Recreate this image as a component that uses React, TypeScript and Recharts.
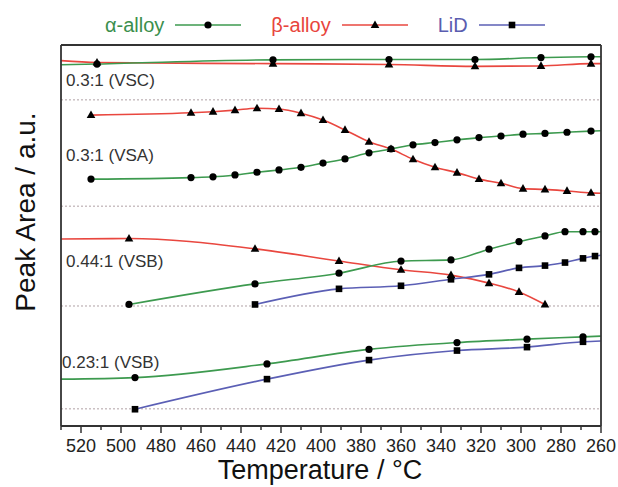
import { LineChart, Line, XAxis, YAxis, ReferenceLine, ReferenceDot, Label } from 'recharts';

type Pt = { t: number; v: number; fit?: boolean };

// temperature ticks (every 10 °C, labels every 20 °C)
const xTicks = [530, 520, 510, 500, 490, 480, 470, 460, 450, 440, 430, 420, 410, 400, 390, 380, 370, 360, 350, 340, 330, 320, 310, 300, 290, 280, 270, 260];

// dotted baselines of the four stacked panels (a.u.)
const baselines = [85.6, 57.7, 31.5, 4.5];
const panelLabels = ['0.3:1 (VSC)', '0.3:1 (VSA)', '0.44:1 (VSB)', '0.23:1 (VSB)'];
const panelLabelLevels = [89.2, 69.6, 41.7, 15.2];
const panelLabelStart = [527.5, 527.5, 527.5, 529.5];

// fit: end of the fitted curve, no measured point
const vscAlpha: Pt[] = [
  { t: 530, v: 94.8, fit: true }, { t: 512, v: 95.0 }, { t: 424, v: 96.1 }, { t: 366, v: 96.2 },
  { t: 323, v: 96.2 }, { t: 290, v: 96.7 }, { t: 265, v: 96.9 }, { t: 260, v: 96.9, fit: true },
];
const vscBeta: Pt[] = [
  { t: 530, v: 95.9, fit: true }, { t: 512, v: 95.4 }, { t: 424, v: 95.1 }, { t: 366, v: 94.9 },
  { t: 323, v: 94.4 }, { t: 290, v: 94.5 }, { t: 265, v: 95.1 }, { t: 260, v: 95.1, fit: true },
];

const vsaAlpha: Pt[] = [
  { t: 515, v: 64.8 }, { t: 465, v: 65.2 }, { t: 454, v: 65.4 }, { t: 443, v: 65.9 }, { t: 432, v: 66.6 },
  { t: 421, v: 67.2 }, { t: 410, v: 67.9 }, { t: 399, v: 69.0 }, { t: 388, v: 70.1 }, { t: 376, v: 71.7 },
  { t: 365, v: 72.7 }, { t: 354, v: 73.8 }, { t: 343, v: 74.4 }, { t: 332, v: 75.1 }, { t: 321, v: 75.7 },
  { t: 310, v: 76.1 }, { t: 299, v: 76.6 }, { t: 288, v: 76.8 }, { t: 277, v: 77.1 }, { t: 265, v: 77.4 },
  { t: 260, v: 77.5, fit: true },
];
const vsaBeta: Pt[] = [
  { t: 515, v: 81.6 }, { t: 465, v: 82.2 }, { t: 454, v: 82.5 }, { t: 443, v: 82.9 }, { t: 432, v: 83.4 },
  { t: 421, v: 83.2 }, { t: 410, v: 82.1 }, { t: 399, v: 80.3 }, { t: 388, v: 77.7 }, { t: 376, v: 74.6 },
  { t: 365, v: 72.7 }, { t: 354, v: 70.0 }, { t: 343, v: 67.9 }, { t: 332, v: 66.5 }, { t: 321, v: 64.8 },
  { t: 310, v: 63.7 }, { t: 299, v: 62.3 }, { t: 288, v: 62.1 }, { t: 277, v: 61.7 }, { t: 265, v: 61.2 },
  { t: 260, v: 61.1, fit: true },
];

const vsb44Alpha: Pt[] = [
  { t: 496, v: 31.9 }, { t: 433, v: 37.3 }, { t: 391, v: 40.1 }, { t: 360, v: 43.3 }, { t: 335, v: 43.6 },
  { t: 316, v: 46.4 }, { t: 301, v: 48.4 }, { t: 288, v: 49.9 }, { t: 278, v: 51.0 }, { t: 269, v: 51.0 },
  { t: 263, v: 51.0 }, { t: 260, v: 51.0, fit: true },
];
const vsb44Beta: Pt[] = [
  { t: 530, v: 49.1, fit: true }, { t: 496, v: 49.2 }, { t: 433, v: 46.5 }, { t: 391, v: 43.3 },
  { t: 360, v: 41.0 }, { t: 335, v: 39.6 }, { t: 316, v: 37.5 }, { t: 301, v: 35.2 }, { t: 288, v: 31.9 },
];
const vsb44LiD: Pt[] = [
  { t: 433, v: 31.9 }, { t: 391, v: 36.0 }, { t: 360, v: 36.8 }, { t: 335, v: 38.5 }, { t: 316, v: 39.8 },
  { t: 301, v: 41.5 }, { t: 288, v: 42.1 }, { t: 278, v: 42.9 }, { t: 269, v: 44.0 }, { t: 263, v: 44.6 },
  { t: 260, v: 44.8, fit: true },
];

const vsb23Alpha: Pt[] = [
  { t: 530, v: 12.3, fit: true }, { t: 493, v: 12.7 }, { t: 427, v: 16.3 }, { t: 376, v: 20.1 },
  { t: 332, v: 21.9 }, { t: 297, v: 22.8 }, { t: 269, v: 23.4 }, { t: 260, v: 23.6, fit: true },
];
const vsb23LiD: Pt[] = [
  { t: 493, v: 4.4 }, { t: 427, v: 12.3 }, { t: 376, v: 17.3 }, { t: 332, v: 19.8 },
  { t: 297, v: 20.7 }, { t: 269, v: 22.1 }, { t: 260, v: 22.3, fit: true },
];

const GREEN = '#3d9a4f';
const RED = '#e9473f';
const BLUE = '#5b5fb5';
const FRAME = { stroke: '#333333', strokeWidth: 1.8 };

type Shape = 'circle' | 'triangle' | 'square';

const legendItems: { name: string; color: string; text: string; shape: Shape }[] = [
  { name: 'α-alloy', color: GREEN, text: '#3b8f4d', shape: 'circle' },
  { name: 'β-alloy', color: RED, text: '#e8453c', shape: 'triangle' },
  { name: 'LiD', color: BLUE, text: '#5a5db0', shape: 'square' },
];

const series: { key: string; data: Pt[]; color: string; shape: Shape }[] = [
  { key: 'vscBeta', data: vscBeta, color: RED, shape: 'triangle' },
  { key: 'vscAlpha', data: vscAlpha, color: GREEN, shape: 'circle' },
  { key: 'vsaBeta', data: vsaBeta, color: RED, shape: 'triangle' },
  { key: 'vsaAlpha', data: vsaAlpha, color: GREEN, shape: 'circle' },
  { key: 'vsb44Beta', data: vsb44Beta, color: RED, shape: 'triangle' },
  { key: 'vsb44LiD', data: vsb44LiD, color: BLUE, shape: 'square' },
  { key: 'vsb44Alpha', data: vsb44Alpha, color: GREEN, shape: 'circle' },
  { key: 'vsb23LiD', data: vsb23LiD, color: BLUE, shape: 'square' },
  { key: 'vsb23Alpha', data: vsb23Alpha, color: GREEN, shape: 'circle' },
];

const FONT = '"Liberation Sans", Arial, sans-serif';

function Marker({ cx, cy, shape }: { cx: number; cy: number; shape: Shape }) {
  if (shape === 'circle') return <circle cx={cx} cy={cy} r={3.6} fill="#000" />;
  if (shape === 'triangle')
    return <path d={`M${cx},${cy - 4.6}L${cx + 4.3},${cy + 3}L${cx - 4.3},${cy + 3}Z`} fill="#000" />;
  return <rect x={cx - 3.3} y={cy - 3.3} width={6.6} height={6.6} fill="#000" />;
}

const makeDot = (shape: Shape) => (props: any) => {
  const { cx, cy, payload, index } = props;
  if (payload?.fit || cx == null || cy == null) return <g key={`n-${index}`} />;
  return (
    <g key={`d-${index}`}>
      <Marker cx={cx} cy={cy} shape={shape} />
    </g>
  );
};

function TempTick({ x, y, payload }: any) {
  const major = payload.value % 20 === 0;
  return (
    <g>
      <line x1={x} x2={x} y1={y} y2={y + (major ? 7 : 4)} stroke="#333" strokeWidth={1.5} />
      {major && (
        <text x={x} y={y + 26} textAnchor="middle" fontSize={18} fontFamily={FONT} fill="#222">
          {payload.value}
        </text>
      )}
    </g>
  );
}

function ChartLegend() {
  return (
    <div
      style={{
        position: 'absolute', top: 13, left: 105,
        display: 'flex', alignItems: 'center', fontFamily: FONT, fontSize: 20, lineHeight: '24px',
      }}
    >
      {legendItems.map(it => (
        <div key={it.name} style={{ display: 'flex', alignItems: 'center', marginRight: 30 }}>
          <span style={{ color: it.text }}>{it.name}</span>
          <svg width={66} height={14} style={{ marginLeft: 11 }}>
            <line x1={0} x2={66} y1={7} y2={7} stroke={it.color} strokeWidth={1.5} />
            <Marker cx={33} cy={7} shape={it.shape} />
          </svg>
        </div>
      ))}
    </div>
  );
}

export default function App() {
  return (
    <div style={{ position: 'absolute', left: 0, top: 0, width: 618, height: 487, background: '#fff' }}>
      <LineChart width={618} height={487} margin={{ top: 1, right: 1, left: 1, bottom: 0 }}>
        <XAxis
          dataKey="t"
          type="number"
          domain={[260, 530]}
          reversed
          allowDataOverflow
          ticks={xTicks}
          interval={0}
          tick={<TempTick />}
          tickSize={0}
          tickMargin={0}
          tickLine={false}
          axisLine={FRAME}
          height={61}
        >
          <Label
            content={({ viewBox }: any) => (
              <text x={viewBox.x + viewBox.width / 2 - 11} y={479} textAnchor="middle" fontSize={27} fontFamily={FONT} fill="#111">
                Temperature / °C
              </text>
            )}
          />
        </XAxis>
        {/* top and right edges of the frame */}
        <XAxis
          xAxisId="top"
          orientation="top"
          type="number"
          domain={[260, 530]}
          reversed
          allowDataOverflow
          height={44}
          tick={false}
          tickLine={false}
          axisLine={FRAME}
        />
        <YAxis type="number" domain={[0, 100]} allowDataOverflow width={60} tick={false} tickLine={false} axisLine={FRAME}>
          <Label
            content={({ viewBox }: any) => (
              <text
                x={viewBox.x + 34}
                y={212}
                transform={`rotate(-90, ${viewBox.x + 34}, 212)`}
                textAnchor="middle"
                fontSize={28}
                fontFamily={FONT}
                fill="#111"
              >
                Peak Area / a.u.
              </text>
            )}
          />
        </YAxis>
        <YAxis
          yAxisId="right"
          orientation="right"
          type="number"
          domain={[0, 100]}
          allowDataOverflow
          width={16}
          tick={false}
          tickLine={false}
          axisLine={FRAME}
        />
        {baselines.map(b => (
          <ReferenceLine key={b} y={b} stroke="#b0a0a4" strokeDasharray="2 2" strokeWidth={1} />
        ))}
        {panelLabels.map((txt, i) => (
          <ReferenceDot
            key={txt}
            x={panelLabelStart[i]}
            y={panelLabelLevels[i]}
            r={0}
            shape={(p: any) => (
              <text x={p.cx} y={p.cy} fontSize={17} fontFamily={FONT} fill="#333">
                {txt}
              </text>
            )}
          />
        ))}
        {series.map(s => (
          <Line
            key={s.key}
            data={s.data}
            dataKey="v"
            type="monotone"
            stroke={s.color}
            strokeWidth={1.6}
            dot={makeDot(s.shape)}
            activeDot={false}
            legendType="none"
            isAnimationActive={false}
          />
        ))}
      </LineChart>
      <ChartLegend />
    </div>
  );
}
